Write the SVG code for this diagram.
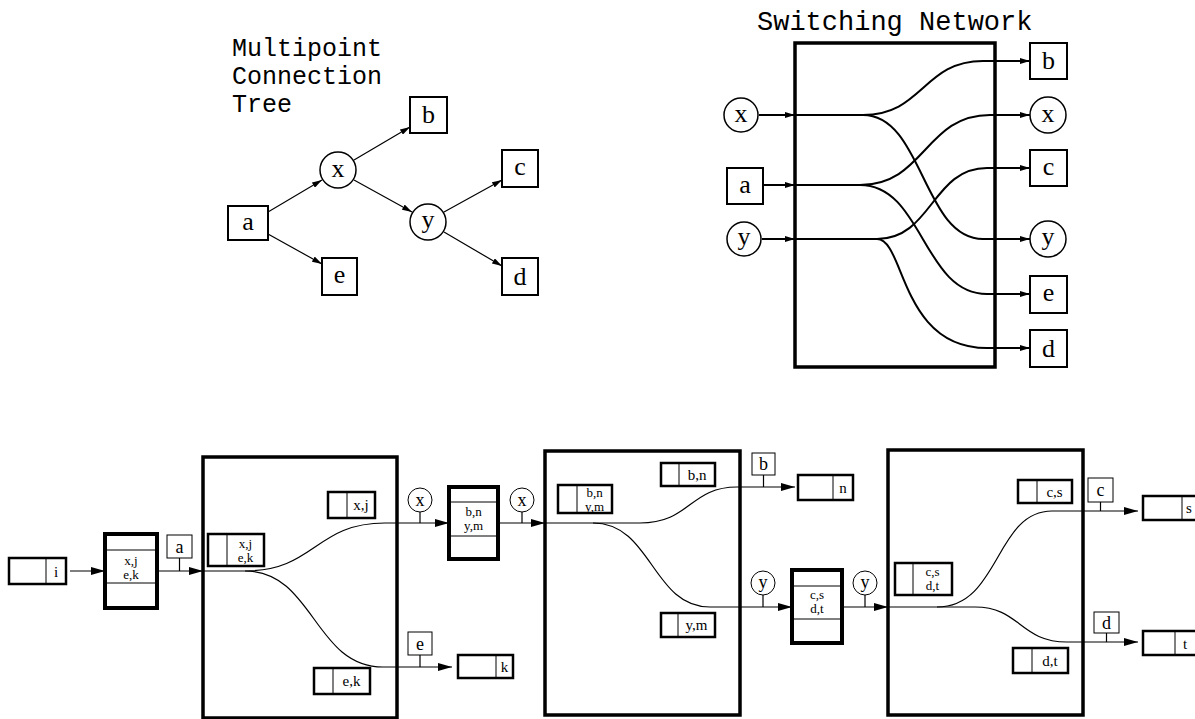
<svg xmlns="http://www.w3.org/2000/svg" width="1195" height="719" viewBox="0 0 1195 719">
<defs>
<style>
.bg{fill:#fff}
.title{font-family:"Liberation Mono","DejaVu Sans Mono",monospace;fill:#000}
.tn{font-family:"Liberation Serif","DejaVu Serif",serif;font-size:26px;text-anchor:middle;fill:#000}
.tbox{fill:#fff;stroke:#000;stroke-width:2}
.tcirc{fill:#fff;stroke:#000;stroke-width:1.5}
.tedge{fill:none;stroke:#000;stroke-width:1.2}
.sedge{fill:none;stroke:#000;stroke-width:2}
.big{fill:none;stroke:#000;stroke-width:3.5}
.buf{fill:#fff;stroke:#000;stroke-width:4}
.lab{fill:#fff;stroke:#000;stroke-width:2.5}
.thin{fill:none;stroke:#000;stroke-width:1}
.tag{fill:#fff;stroke:#000;stroke-width:1}
.bedge{fill:none;stroke:#000;stroke-width:1.2}
.bt{font-family:"Liberation Serif","DejaVu Serif",serif;font-size:15px;text-anchor:middle;fill:#000}
.b2{font-family:"Liberation Serif","DejaVu Serif",serif;font-size:13px;text-anchor:middle;fill:#000}
.tg{font-family:"Liberation Serif","DejaVu Serif",serif;font-size:18px;text-anchor:middle;fill:#000}
</style>
<marker id="ta" viewBox="0 0 10 6" refX="10" refY="3" markerWidth="10" markerHeight="6" markerUnits="userSpaceOnUse" orient="auto"><path d="M0,0 L10,3 L0,6 z" fill="#000"/></marker>
<marker id="sa" viewBox="0 0 10 6" refX="10" refY="3" markerWidth="10" markerHeight="6" markerUnits="userSpaceOnUse" orient="auto"><path d="M0,0 L10,3 L0,6 z" fill="#000"/></marker>
<marker id="ba" viewBox="0 0 14 8" refX="14" refY="4" markerWidth="14" markerHeight="8" markerUnits="userSpaceOnUse" orient="auto"><path d="M0,0 L14,4 L0,8 z" fill="#000"/></marker>
</defs>
<rect class="bg" x="0" y="0" width="1195" height="719"/>

<!-- ===== Multipoint connection tree ===== -->
<g id="tree-title">
<text class="title" font-size="25" x="232" y="56">Multipoint</text>
<text class="title" font-size="25" x="232" y="84">Connection</text>
<text class="title" font-size="25" x="232" y="112">Tree</text>
</g>
<g id="tree-edges">
<line class="tedge" x1="268" y1="212" x2="322" y2="180" marker-end="url(#ta)"/>
<line class="tedge" x1="268" y1="234" x2="322" y2="264" marker-end="url(#ta)"/>
<line class="tedge" x1="354" y1="160" x2="410" y2="127" marker-end="url(#ta)"/>
<line class="tedge" x1="354" y1="180" x2="412" y2="212" marker-end="url(#ta)"/>
<line class="tedge" x1="444" y1="212" x2="502" y2="180" marker-end="url(#ta)"/>
<line class="tedge" x1="444" y1="232" x2="502" y2="266" marker-end="url(#ta)"/>
</g>
<g id="tree-a"><rect class="tbox" x="228" y="206" width="40" height="34"/><text class="tn" x="248" y="230">a</text></g>
<g id="tree-x"><circle class="tcirc" cx="338" cy="170" r="18"/><text class="tn" x="338" y="177">x</text></g>
<g id="tree-b"><rect class="tbox" x="410" y="97" width="37" height="36"/><text class="tn" x="428.5" y="123">b</text></g>
<g id="tree-y"><circle class="tcirc" cx="428" cy="222" r="18"/><text class="tn" x="428" y="228">y</text></g>
<g id="tree-c"><rect class="tbox" x="502" y="150" width="36" height="37"/><text class="tn" x="520" y="175">c</text></g>
<g id="tree-e"><rect class="tbox" x="322" y="258" width="35" height="37"/><text class="tn" x="339.5" y="283">e</text></g>
<g id="tree-d"><rect class="tbox" x="502" y="258" width="36" height="37"/><text class="tn" x="520" y="285">d</text></g>

<!-- ===== Switching network ===== -->
<g id="sn-title"><text class="title" font-size="27" x="757" y="30">Switching Network</text></g>
<g id="sn-box"><rect class="big" x="795" y="43" width="200" height="324"/></g>
<g id="sn-edges">
<line class="sedge" x1="759" y1="115" x2="795" y2="115" marker-end="url(#sa)"/>
<line class="sedge" x1="763" y1="185" x2="795" y2="185" marker-end="url(#sa)"/>
<line class="sedge" x1="762" y1="239" x2="795" y2="239" marker-end="url(#sa)"/>
<line class="sedge" x1="795" y1="115" x2="863" y2="115"/>
<line class="sedge" x1="795" y1="185" x2="860" y2="185"/>
<line class="sedge" x1="795" y1="239" x2="877" y2="239"/>
<path class="sedge" d="M863,115 C923,115 923,61 983,61 L1030,61" marker-end="url(#sa)"/>
<path class="sedge" d="M863,115 C923,115 923,239 983,239 L1030,239" marker-end="url(#sa)"/>
<path class="sedge" d="M860,185 C925,185 925,115 990,115 L1030,115" marker-end="url(#sa)"/>
<path class="sedge" d="M860,185 C923,185 923,294 987,294 L1030,294" marker-end="url(#sa)"/>
<path class="sedge" d="M877,239 C932,239 932,168 987,168 L1030,168" marker-end="url(#sa)"/>
<path class="sedge" d="M877,239 C905,239 900,348 987,348 L1030,348" marker-end="url(#sa)"/>
</g>
<g id="sn-in-x"><circle class="tcirc" cx="741" cy="115" r="17"/><text class="tn" x="741" y="122">x</text></g>
<g id="sn-in-a"><rect class="tbox" x="727" y="168" width="36" height="36"/><text class="tn" x="745" y="193">a</text></g>
<g id="sn-in-y"><circle class="tcirc" cx="744" cy="239" r="17"/><text class="tn" x="744" y="245">y</text></g>
<g id="sn-out-b"><rect class="tbox" x="1030" y="43" width="37" height="36"/><text class="tn" x="1048.5" y="69">b</text></g>
<g id="sn-out-x"><circle class="tcirc" cx="1048" cy="115" r="18"/><text class="tn" x="1048" y="122">x</text></g>
<g id="sn-out-c"><rect class="tbox" x="1030" y="150" width="37" height="36"/><text class="tn" x="1048.5" y="175">c</text></g>
<g id="sn-out-y"><circle class="tcirc" cx="1048" cy="239" r="18"/><text class="tn" x="1048" y="245">y</text></g>
<g id="sn-out-e"><rect class="tbox" x="1030" y="276" width="37" height="37"/><text class="tn" x="1048.5" y="301">e</text></g>
<g id="sn-out-d"><rect class="tbox" x="1030" y="330" width="37" height="37"/><text class="tn" x="1048.5" y="357">d</text></g>

<!-- ===== Bottom pipeline ===== -->
<g id="connectors">
<line class="bedge" x1="70" y1="571" x2="105" y2="571" marker-end="url(#ba)"/>
<line class="bedge" x1="157" y1="571" x2="203" y2="571" marker-end="url(#ba)"/>
<line class="bedge" x1="179.5" y1="558" x2="179.5" y2="571"/>
<path class="bedge" d="M203,571 L245,571 C315,571 315,523 385,523 L449,523" marker-end="url(#ba)"/>
<path class="bedge" d="M245,571 C314,571 314,667 383,667 L452,667" marker-end="url(#ba)"/>
<line class="bedge" x1="420" y1="512" x2="420" y2="523"/>
<line class="bedge" x1="420" y1="655" x2="420" y2="667"/>
<line class="bedge" x1="498" y1="523" x2="545" y2="523" marker-end="url(#ba)"/>
<line class="bedge" x1="522" y1="512" x2="522" y2="523"/>
<path class="bedge" d="M545,523 L640,523 C690,523 690,487 737,487 L795,487" marker-end="url(#ba)"/>
<path class="bedge" d="M593,523 C652,523 652,607 710,607 L792,607" marker-end="url(#ba)"/>
<line class="bedge" x1="763.5" y1="475" x2="763.5" y2="487"/>
<line class="bedge" x1="763" y1="595" x2="763" y2="607"/>
<line class="bedge" x1="842" y1="607" x2="888" y2="607" marker-end="url(#ba)"/>
<line class="bedge" x1="865" y1="595" x2="865" y2="607"/>
<path class="bedge" d="M888,607 L937,607 C1000,607 995,511 1052,511 L1138,511" marker-end="url(#ba)"/>
<path class="bedge" d="M937,607 L975,607 C1020,607 1020,642 1067,642 L1138,642" marker-end="url(#ba)"/>
<line class="bedge" x1="1100.5" y1="502" x2="1100.5" y2="511"/>
<line class="bedge" x1="1106.5" y1="633" x2="1106.5" y2="642"/>
</g>

<g id="src-i"><rect class="lab" x="9" y="558" width="57" height="26"/><line class="thin" x1="46" y1="558" x2="46" y2="584"/><text class="bt" x="56" y="577">i</text></g>
<g id="buffer-1"><rect class="buf" x="105" y="534" width="52" height="74"/><line class="thin" x1="105" y1="550" x2="157" y2="550"/><line class="thin" x1="105" y1="583" x2="157" y2="583"/><text class="b2" x="131" y="565">x,j</text><text class="b2" x="131" y="579">e,k</text></g>
<g id="tag-a"><rect class="tag" x="167" y="535" width="25" height="23"/><text class="tg" x="179.5" y="553">a</text></g>

<g id="switch-1">
<rect class="big" x="203" y="457" width="194" height="261"/>
<rect class="lab" x="208" y="534" width="56" height="32"/><line class="thin" x1="227" y1="534" x2="227" y2="566"/><text class="b2" x="245.5" y="547.5">x,j</text><text class="b2" x="245.5" y="561.5">e,k</text>
<rect class="lab" x="328" y="492" width="47" height="26"/><line class="thin" x1="347" y1="492" x2="347" y2="518"/><text class="bt" x="361" y="510">x,j</text>
<rect class="lab" x="314" y="668" width="56" height="26"/><line class="thin" x1="333" y1="668" x2="333" y2="694"/><text class="bt" x="351.5" y="686">e,k</text>
</g>
<g id="tag-x1"><circle class="tag" cx="420" cy="500" r="12"/><text class="tg" x="420" y="506">x</text></g>
<g id="tag-e"><rect class="tag" x="408" y="632" width="24" height="23"/><text class="tg" x="420" y="650">e</text></g>
<g id="dst-k"><rect class="lab" x="458" y="655" width="55" height="23"/><line class="thin" x1="496" y1="655" x2="496" y2="678"/><text class="bt" x="504.5" y="672">k</text></g>

<g id="buffer-2"><rect class="buf" x="449" y="487" width="49" height="72"/><line class="thin" x1="449" y1="502" x2="498" y2="502"/><line class="thin" x1="449" y1="536" x2="498" y2="536"/><text class="b2" x="473.5" y="516">b,n</text><text class="b2" x="473.5" y="530">y,m</text></g>
<g id="tag-x2"><circle class="tag" cx="522" cy="500" r="12"/><text class="tg" x="522" y="506">x</text></g>

<g id="switch-2">
<rect class="big" x="545" y="451" width="195" height="264"/>
<rect class="lab" x="661" y="463" width="54" height="23"/><line class="thin" x1="679" y1="463" x2="679" y2="486"/><text class="bt" x="697" y="480">b,n</text>
<rect class="lab" x="558" y="485" width="54" height="28"/><line class="thin" x1="577" y1="485" x2="577" y2="513"/><text class="b2" x="594.5" y="497">b,n</text><text class="b2" x="594.5" y="510.5">y,m</text>
<rect class="lab" x="661" y="613" width="54" height="24"/><line class="thin" x1="678" y1="613" x2="678" y2="637"/><text class="bt" x="696.5" y="630">y,m</text>
</g>
<g id="tag-b"><rect class="tag" x="752" y="453" width="23" height="22"/><text class="tg" x="763.5" y="470">b</text></g>
<g id="dst-n"><rect class="lab" x="798" y="475" width="55" height="25"/><line class="thin" x1="833" y1="475" x2="833" y2="500"/><text class="bt" x="843" y="493">n</text></g>
<g id="tag-y1"><circle class="tag" cx="763" cy="583" r="12"/><text class="tg" x="763" y="588">y</text></g>

<g id="buffer-3"><rect class="buf" x="792" y="570" width="50" height="73"/><line class="thin" x1="792" y1="586" x2="842" y2="586"/><line class="thin" x1="792" y1="619" x2="842" y2="619"/><text class="b2" x="817" y="599">c,s</text><text class="b2" x="817" y="613">d,t</text></g>
<g id="tag-y2"><circle class="tag" cx="865" cy="583" r="12"/><text class="tg" x="865" y="588">y</text></g>

<g id="switch-3">
<rect class="big" x="888" y="450" width="195" height="265"/>
<rect class="lab" x="1018" y="480" width="54" height="23"/><line class="thin" x1="1037" y1="480" x2="1037" y2="503"/><text class="bt" x="1054.5" y="497">c,s</text>
<rect class="lab" x="895" y="563" width="57" height="32"/><line class="thin" x1="913" y1="563" x2="913" y2="595"/><text class="b2" x="932.5" y="576">c,s</text><text class="b2" x="932.5" y="590">d,t</text>
<rect class="lab" x="1013" y="648" width="55" height="25"/><line class="thin" x1="1032" y1="648" x2="1032" y2="673"/><text class="bt" x="1050" y="666">d,t</text>
</g>
<g id="tag-c"><rect class="tag" x="1088" y="478" width="25" height="24"/><text class="tg" x="1100.5" y="496">c</text></g>
<g id="dst-s"><rect class="lab" x="1143" y="496" width="56" height="24"/><line class="thin" x1="1182" y1="496" x2="1182" y2="520"/><text class="bt" x="1189" y="513">s</text></g>
<g id="tag-d"><rect class="tag" x="1094" y="612" width="25" height="21"/><text class="tg" x="1106.5" y="629">d</text></g>
<g id="dst-t"><rect class="lab" x="1143" y="631" width="56" height="24"/><line class="thin" x1="1175" y1="631" x2="1175" y2="655"/><text class="bt" x="1185" y="649">t</text></g>
</svg>
